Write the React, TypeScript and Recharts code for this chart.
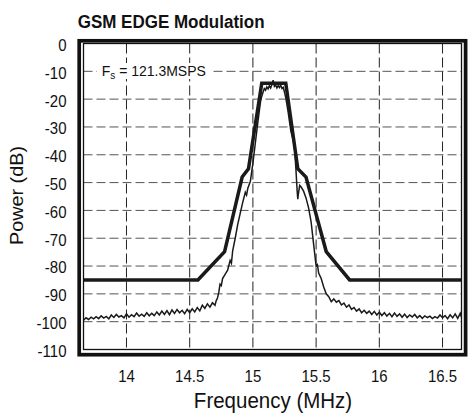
import React from 'react';
import { LineChart, Line, XAxis, YAxis, CartesianGrid } from 'recharts';

const titleText = 'GSM EDGE Modulation';
const xLabelText = 'Frequency (MHz)';
const yLabelText = 'Power (dB)';
const noteMain = 'F';
const noteSub = 's';
const noteRest = ' = 121.3MSPS';

const xTicks = [14, 14.5, 15, 15.5, 16, 16.5];
const yTicks = [0, -10, -20, -30, -40, -50, -60, -70, -80, -90, -100, -110];

const maskFreq = [13.66, 14.565, 14.776, 14.915, 14.965, 15.07, 15.26, 15.355, 15.42, 15.58, 15.765, 16.65];
const maskPower = [-85, -85, -74.8, -48, -45, -14.3, -14.3, -45, -48, -74.8, -85, -85];

const measuredFreq = [
  13.66, 13.68, 13.7, 13.72, 13.74, 13.76, 13.78, 13.8, 13.82, 13.84, 13.86, 13.88, 13.9, 13.92, 13.94, 13.96, 13.98,
  14.0, 14.02, 14.04, 14.06, 14.08, 14.1, 14.12, 14.14, 14.16, 14.18, 14.2, 14.22, 14.24, 14.26, 14.28, 14.3, 14.32,
  14.34, 14.36, 14.38, 14.4, 14.42, 14.44, 14.46, 14.48, 14.5, 14.52, 14.54, 14.56, 14.58, 14.6, 14.62, 14.64, 14.66,
  14.68, 14.7, 14.71, 14.72, 14.73, 14.74, 14.75, 14.76, 14.78, 14.8, 14.82, 14.83, 14.84, 14.86, 14.88, 14.9, 14.92,
  14.94, 14.95, 14.96, 14.98, 15.0, 15.02, 15.04, 15.06, 15.07, 15.08, 15.09, 15.1, 15.11, 15.12, 15.13, 15.14, 15.15,
  15.16, 15.17, 15.18, 15.19, 15.2, 15.21, 15.22, 15.23, 15.24, 15.25, 15.26, 15.28, 15.3, 15.32, 15.33, 15.34, 15.35,
  15.355, 15.36, 15.37, 15.38, 15.4, 15.42, 15.44, 15.46, 15.48, 15.5, 15.51, 15.52, 15.54, 15.56, 15.58, 15.6, 15.62,
  15.64, 15.66, 15.68, 15.7, 15.72, 15.74, 15.76, 15.78, 15.8, 15.82, 15.84, 15.86, 15.88, 15.9, 15.92, 15.94, 15.96,
  15.98, 16.0, 16.02, 16.04, 16.06, 16.08, 16.1, 16.12, 16.14, 16.16, 16.18, 16.2, 16.22, 16.24, 16.26, 16.28, 16.3,
  16.32, 16.34, 16.36, 16.38, 16.4, 16.42, 16.44, 16.46, 16.48, 16.5, 16.52, 16.54, 16.56, 16.58, 16.6, 16.62, 16.64,
  16.65,
];
const measuredPower = [
  -99.5, -98.6, -99.2, -98.4, -99.0, -98.2, -98.9, -97.9, -98.7, -98.1, -99.0, -97.6, -98.5, -97.4, -98.3, -97.8, -98.6,
  -97.2, -98.4, -97.5, -98.2, -96.9, -98.0, -97.3, -98.1, -96.8, -97.9, -97.0, -97.8, -96.5, -97.6, -96.2, -97.4, -96.0,
  -97.5, -95.8, -97.0, -95.6, -96.8, -95.9, -97.1, -95.6, -96.8, -95.4, -96.5, -94.9, -96.1, -94.1, -95.2, -93.6, -94.8,
  -93.2, -94.1, -92.4, -91.5, -89.5, -86.5, -87.0, -84.5, -83.0, -81.5, -78.0, -79.0, -74.5, -70.0, -65.0, -61.0, -57.0,
  -53.5, -54.5, -52.0, -49.5, -43.0, -35.5, -28.0, -21.0, -19.0, -17.5, -16.2, -16.8, -15.6, -16.3, -15.2, -16.0, -14.8,
  -13.2, -15.4, -14.9, -16.0, -15.1, -15.8, -15.0, -16.2, -15.8, -17.5, -19.5, -25.0, -31.5, -35.0, -38.0, -45.0, -53.0,
  -56.0, -54.0, -51.0, -51.5, -53.0, -55.5, -59.0, -64.0, -72.0, -80.0, -79.5, -82.5, -84.5, -87.5, -90.0, -91.0, -92.8,
  -91.8, -93.0, -92.4, -94.0, -93.3, -94.8, -94.0, -95.6, -94.9, -96.2, -95.4, -96.8, -95.9, -97.0, -96.2, -97.4, -96.3,
  -97.6, -96.6, -97.8, -96.8, -98.0, -97.0, -98.2, -96.9, -98.1, -97.2, -98.4, -97.3, -98.5, -97.6, -98.3, -97.4, -98.6,
  -97.8, -98.8, -97.9, -98.5, -98.0, -98.9, -98.2, -98.7, -97.6, -98.6, -97.8, -98.9, -97.5, -98.6, -97.2, -98.8, -97.0,
  -98.4,
];

const maskData = maskFreq.map((f, i) => ({ f, p: maskPower[i] }));
const measuredData = measuredFreq.map((f, i) => ({ f, p: measuredPower[i] }));

const FONT = "'Liberation Sans', Arial, Helvetica, sans-serif";
const STRETCH = 1.1;

const YTick = (props: any) => {
  const { x, y, payload } = props;
  return (
    <g transform={`translate(${x},${y + 1.5}) scale(1,${STRETCH})`}>
      <text x={0} y={0} dy={5.4} textAnchor="end" fontSize={15} fontFamily={FONT} fill="#111">
        {payload.value}
      </text>
    </g>
  );
};

const XTick = (props: any) => {
  const { x, y, payload } = props;
  return (
    <g transform={`translate(${x},${y + 32.2}) scale(1,${STRETCH})`}>
      <text x={0} y={0} textAnchor="middle" fontSize={15} fontFamily={FONT} fill="#111">
        {payload.value}
      </text>
    </g>
  );
};

export default function App() {
  return (
    <div style={{ position: 'absolute', left: 0, top: 0, width: 468, height: 414, background: '#fff' }}>
      <LineChart
        width={468}
        height={414}
        margin={{ top: 43.5, right: 6.5, bottom: 24.5, left: 0 }}
      >
        <CartesianGrid horizontal={true} vertical={false} stroke="#555" strokeDasharray="9 4" strokeWidth={1} />
        <CartesianGrid horizontal={false} vertical={true} stroke="#222" strokeDasharray="10 4" strokeWidth={1} />
        <XAxis
          dataKey="f"
          type="number"
          domain={[13.66, 16.65]}
          ticks={xTicks}
          allowDataOverflow
          axisLine={false}
          tickLine={false}
          tickSize={0}
          tickMargin={0}
          height={40}
          interval={0}
          tick={<XTick />}
        />
        <YAxis
          type="number"
          domain={[-110, 0]}
          ticks={yTicks}
          allowDataOverflow
          axisLine={false}
          tickLine={false}
          tickSize={0}
          tickMargin={17}
          width={83.5}
          interval={0}
          tick={<YTick />}
        />
        <Line
          data={measuredData}
          dataKey="p"
          type="linear"
          stroke="#1a1a1a"
          strokeWidth={1.5}
          dot={false}
          isAnimationActive={false}
        />
        <Line
          data={maskData}
          dataKey="p"
          type="linear"
          stroke="#1a1a1a"
          strokeWidth={3.5}
          strokeLinejoin="miter"
          dot={false}
          isAnimationActive={false}
        />
      </LineChart>
      <svg
        width={468}
        height={414}
        style={{ position: 'absolute', left: 0, top: 0, pointerEvents: 'none' }}
      >
        <rect x={79.2} y={40.8} width={386.4} height={313.9} fill="none" stroke="#111" strokeWidth={3.7} />
        <rect x={83.5} y={43.5} width={378} height={306} fill="none" stroke="#111" strokeWidth={1.3} />
        <rect x={97} y={63} width={114} height={16} fill="#fff" />
        <g transform={`translate(101.7,76) scale(1,${STRETCH})`}>
          <text x={0} y={0} fontSize={14} fontFamily={FONT} fill="#111">
            {noteMain}
            <tspan fontSize={10} dy={2.5}>{noteSub}</tspan>
            <tspan dy={-2.5}>{noteRest}</tspan>
          </text>
        </g>
        <g transform={`translate(77.7,28.3) scale(1,1.09)`}>
          <text x={0} y={0} fontSize={17} fontWeight="bold" fontFamily={FONT} fill="#111">
            {titleText}
          </text>
        </g>
        <g transform={`translate(23.3,195.5) scale(1,${STRETCH}) rotate(-90)`}>
          <text x={0} y={0} fontSize={18} textAnchor="middle" fontFamily={FONT} fill="#111">
            {yLabelText}
          </text>
        </g>
        <g transform={`translate(273,407.5) scale(1,1.04)`}>
          <text x={0} y={0} fontSize={20.5} textAnchor="middle" fontFamily={FONT} fill="#111">
            {xLabelText}
          </text>
        </g>
      </svg>
    </div>
  );
}
